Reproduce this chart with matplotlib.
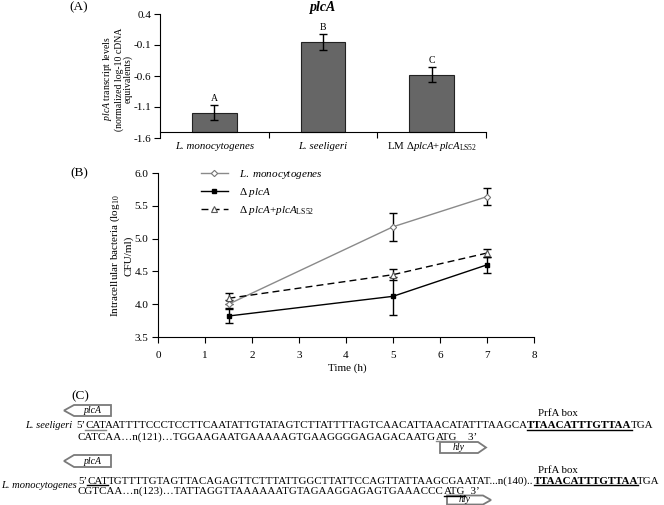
import matplotlib
matplotlib.use("Agg")
import matplotlib.pyplot as plt
from matplotlib.patches import Polygon
from matplotlib.lines import Line2D
from matplotlib.transforms import IdentityTransform
from matplotlib.font_manager import FontProperties

plt.rcParams['font.family'] = 'Liberation Serif'
plt.rcParams['mathtext.fontset'] = 'custom'
plt.rcParams['mathtext.rm'] = 'Liberation Serif'
plt.rcParams['mathtext.it'] = 'Liberation Serif:italic'
plt.rcParams['mathtext.bf'] = 'Liberation Serif:bold'
plt.rcParams['axes.unicode_minus'] = False

W, H = 664, 505

# (A) plcA transcript levels
strains = ['L. monocytogenes', 'L. seeligeri',
           r'LM $\Delta\mathit{plcA}$+$\mathit{plcA}_{\mathrm{LS52}}$']
strain_style = ['italic', 'italic', 'normal']
transcript = [-1.19, -0.05, -0.58]
transcript_err = [0.12, 0.13, 0.12]
groups = ['A', 'B', 'C']
a_yticks = [0.4, -0.1, -0.6, -1.1, -1.6]

# (B) intracellular growth
time_h = [1.5, 5, 7]
lm_cfu = [4.00, 5.18, 5.64]
lm_err = [0.06, 0.21, 0.13]
dplca_cfu = [3.82, 4.12, 4.60]
dplca_err = [0.11, 0.29, 0.12]
comp_cfu = [4.09, 4.45, 4.78]
comp_err = [0.08, 0.08, 0.06]
b_yticks = [3.5, 4.0, 4.5, 5.0, 5.5, 6.0]
series_names = [r'$\mathit{L.\ monocytogenes}$',
                r'Δ $\mathit{plcA}$',
                r'Δ $\mathit{plcA}$+$\mathit{plcA}_{\mathrm{LS52}}$']

# (C) promoter sequences: (text, bold, underline colour)
ls_line1 = [("5’", False, None), ("CAT", False, '#888888'),
            ("AATTTTCCCTCCTTCAATATTGTATAGTCTTATTTTAGTCAACATTAACATATTTAAGCA", False, None),
            ("TTAACATTTGTTAA", True, 'black'), ("TGA", False, None)]
ls_line2 = [("CATCAA…n(121)…TGGAAGAATGAAAAAGTGAAGGGGAGAGACAATG", False, None),
            ("ATG", False, '#888888'), ("    3’", False, None)]
lm_line1 = [("5’", False, None), ("CAT", False, 'black'),
            ("TGTTTTGTAGTTACAGAGTTCTTTATTGGCTTATTCCAGTTATTAAGCGAATAT...n(140)..", False, None),
            ("TTAACATTTGTTAA", True, 'black'), ("TGA", False, None)]
lm_line2 = [("CGTCAA…n(123)…TATTAGGTTAAAAAATGTAGAAGGAGAGTGAAACCC", False, None),
            ("ATG", False, 'black'), ("  3’", False, None)]

fig = plt.figure(figsize=(W / 100, H / 100), dpi=100)


def fx(x):
    return x / W


def fy(y):
    return 1 - y / H


# ---------------- panel A ----------------
axA = fig.add_axes([fx(160), fy(138), fx(486) - fx(160), fy(14) - fy(138)])
xpos = list(range(len(strains)))
axA.bar(xpos, [v + 1.5 for v in transcript], bottom=-1.5, width=0.41,
        color='#666666', edgecolor='#222222', linewidth=0.8, zorder=2)
axA.errorbar(xpos, transcript, yerr=transcript_err, fmt='none', ecolor='black',
             elinewidth=1, capsize=3, capthick=1, zorder=3)
for i, g in enumerate(groups):
    axA.text(i, transcript[i] + transcript_err[i] + 0.03, g, ha='center', va='bottom', fontsize=7)
axA.set_xlim(-0.5, 2.5)
axA.set_ylim(-1.6, 0.4)
axA.set_yticks(a_yticks)
axA.set_yticklabels(['%.1f' % v for v in a_yticks], fontsize=8)
axA.set_xticks([0.5, 1.5, 2.5])
axA.set_xticklabels([])
axA.tick_params(axis='x', length=4, direction='out', width=0.8)
axA.tick_params(axis='y', length=4, direction='out', width=0.8, pad=2)
for i, name in enumerate(strains):
    axA.text(i, -0.07, name, transform=axA.get_xaxis_transform(), fontsize=7.8,
             fontstyle=strain_style[i], ha='center', va='center')
axA.spines['top'].set_visible(False)
axA.spines['right'].set_visible(False)
axA.spines['bottom'].set_position(('data', -1.5))
for s in ('left', 'bottom'):
    axA.spines[s].set_linewidth(0.8)
fig.text(fx(323), fy(8), 'plcA', fontsize=10, fontweight='bold', fontstyle='italic',
         ha='center', va='center')
fig.text(fx(117), fy(79), '$\\mathit{plcA}$ transcript levels\n(normalized log-10 cDNA\nequivalents)',
         rotation=90, fontsize=7, linespacing=1.0, ha='center', va='center',
         multialignment='center')
fig.text(fx(79), fy(7), '(A)', fontsize=9.5, ha='center', va='center')

# ---------------- panel B ----------------
axB = fig.add_axes([fx(158), fy(337), fx(534) - fx(158), fy(173) - fy(337)])
for vals, errs in ((lm_cfu, lm_err), (dplca_cfu, dplca_err), (comp_cfu, comp_err)):
    axB.errorbar(time_h, vals, yerr=errs, fmt='none', ecolor='black', elinewidth=1,
                 capsize=3, capthick=1, zorder=2)
l1, = axB.plot(time_h, lm_cfu, color='#8a8a8a', lw=1, marker='D', ms=3.2,
               mfc='white', mec='#777777', mew=0.8, zorder=3)
l2, = axB.plot(time_h, dplca_cfu, color='black', lw=1, marker='s', ms=3.5,
               mfc='black', mec='black', zorder=3)
l3, = axB.plot(time_h, comp_cfu, color='black', lw=1, ls=(0, (5, 3)), marker='^', ms=4,
               mfc='white', mec='#555555', mew=0.8, zorder=3)
axB.set_xlim(0, 8)
axB.set_ylim(3.5, 6.0)
axB.set_xticks(range(9))
axB.set_yticks(b_yticks)
axB.set_yticklabels(['%.1f' % v for v in b_yticks])
axB.tick_params(labelsize=8, length=4, width=0.8, direction='out')
axB.tick_params(axis='y', pad=3)
axB.tick_params(axis='x', pad=6)
axB.spines['top'].set_visible(False)
axB.spines['right'].set_visible(False)
for s in ('left', 'bottom'):
    axB.spines[s].set_linewidth(0.8)
axB.legend([l1, l2, l3], series_names, loc='upper left', frameon=False, fontsize=8,
           bbox_to_anchor=(fx(201), fy(168)), bbox_transform=fig.transFigure,
           borderpad=0, borderaxespad=0, labelspacing=0.45, handlelength=2.4,
           handletextpad=1.0)
fig.text(fx(347), fy(368), 'Time (h)', fontsize=8, ha='center', va='center')
fig.text(fx(121), fy(256), 'Intracellular bacteria (log$_{10}$\nCFU/ml)', rotation=90,
         fontsize=8, ha='center', va='center', multialignment='center', linespacing=1.2)
fig.text(fx(79), fy(173), '(B)', fontsize=9.5, ha='center', va='center')

# ---------------- panel C ----------------
fig.text(fx(80), fy(396), '(C)', fontsize=9.5, ha='center', va='center')
renderer = fig.canvas.get_renderer()


def ink_w(s, size, bold):
    fp = FontProperties(family='Liberation Serif', size=size,
                        weight='bold' if bold else 'normal')
    return renderer.get_text_width_height_descent(s, fp, ismath=False)[0]


def layout(parts, size):
    # x offset of every run, keeping the kerning between neighbouring runs
    xs = [0.0]
    for k in range(1, len(parts)):
        prev, bold = parts[k - 1][0], parts[k - 1][1]
        c = parts[k][0][0]
        xs.append(xs[-1] + ink_w(prev + c, size, bold) - ink_w(c, size, bold))
    end = xs[-1] + ink_w(parts[-1][0], size, parts[-1][1])
    return xs, end


# font size chosen so the longest sequence line stops just short of the right edge
SEQ = 8.0
for _ in range(5):
    longest = max(layout(ls_line1, SEQ)[1] + 76, layout(lm_line1, SEQ)[1] + 78)
    SEQ *= (659 - 77) / (longest - 77)


def seq_line(x, y, parts):
    base = H - y
    xs, _ = layout(parts, SEQ)
    for (s, bold, ul), dx in zip(parts, xs):
        fig.text(x + dx, base, s, transform=IdentityTransform(), fontsize=SEQ,
                 fontweight='bold' if bold else 'normal', ha='left', va='baseline')
        if ul:
            w = ink_w(s, SEQ, bold)
            fig.add_artist(Line2D([x + dx, x + dx + w], [base - 1.6, base - 1.6],
                                  transform=IdentityTransform(), color=ul, lw=1))


def gene_box(x0, x1, y0, y1, label, left):
    ym = (y0 + y1) / 2
    if left:
        pts = [(x0, ym), (x0 + 10, y0), (x1, y0), (x1, y1), (x0 + 10, y1)]
    else:
        pts = [(x0, y0), (x1 - 8, y0), (x1, ym), (x1 - 8, y1), (x0, y1)]
    fig.add_artist(Polygon([(px, H - py) for px, py in pts], closed=True,
                           transform=IdentityTransform(), facecolor='white',
                           edgecolor='#7a7a7a', lw=1.3))
    cx = (x0 + 10 + x1) / 2 if left else (x0 + x1 - 8) / 2
    fig.text(cx, H - ym, label, transform=IdentityTransform(), fontsize=7,
             fontstyle='italic', ha='center', va='center')


gene_box(64, 111, 405, 416, 'plcA', True)
fig.text(fx(72), fy(428.5), 'L. seeligeri', fontsize=7.6, fontstyle='italic', ha='right',
         va='baseline')
fig.text(fx(538), fy(414), 'PrfA box', fontsize=7.8, ha='left', va='center')
seq_line(76, 428.5, ls_line1)
seq_line(78, 439.5, ls_line2)
gene_box(440, 486, 442, 453, 'hly', False)

gene_box(64, 111, 455, 467, 'plcA', True)
fig.text(fx(538), fy(470.5), 'PrfA box', fontsize=7.8, ha='left', va='center')
fig.text(fx(77), fy(488.5), 'L. monocytogenes', fontsize=7.6, fontstyle='italic', ha='right',
         va='baseline')
seq_line(78, 483.5, lm_line1)
seq_line(78, 494, lm_line2)
gene_box(447, 491, 495.5, 504.5, 'hly', False)

fig.savefig('out.png', dpi=100)
